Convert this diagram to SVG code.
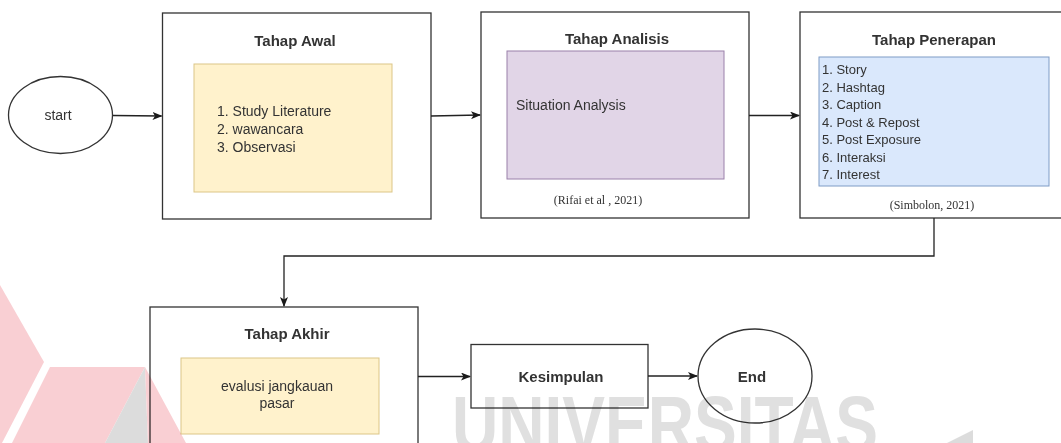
<svg xmlns="http://www.w3.org/2000/svg" width="1061" height="443" viewBox="0 0 1061 443">
<defs>
<marker id="arr" markerWidth="10" markerHeight="8" refX="9" refY="4" orient="auto" markerUnits="userSpaceOnUse">
<path d="M0,0 L10,4 L0,8 L2.5,4 Z" fill="#1a1a1a"/>
</marker>
<style>
.frame{fill:#ffffff;stroke:#333333;stroke-width:1.3}
.yel{fill:#fff2cc;stroke:#dcc687;stroke-width:1}
.pur{fill:#e1d5e7;stroke:#9a80aa;stroke-width:1}
.blu{fill:#dae8fc;stroke:#7f9cc6;stroke-width:1}
.title{font-family:"Liberation Sans",Arial,sans-serif;font-size:15px;font-weight:bold;fill:#333333;text-anchor:middle}
.txt{font-family:"Liberation Sans",Arial,sans-serif;font-size:14px;fill:#333333}
.lst{font-family:"Liberation Sans",Arial,sans-serif;font-size:13px;fill:#333333}
.ref{font-family:"Liberation Serif","Times New Roman",serif;font-size:12px;fill:#333333;text-anchor:middle}
.conn{fill:none;stroke:#222222;stroke-width:1.3}
</style>
</defs>
<rect x="0" y="0" width="1061" height="443" fill="#ffffff"/>

<g id="start">
<ellipse cx="60.5" cy="115" rx="52" ry="38.5" fill="#ffffff" stroke="#333333" stroke-width="1.3"/>
<text class="txt" x="58" y="120" text-anchor="middle" font-size="15">start</text>
</g>

<g id="tahap-awal">
<rect class="frame" x="162.5" y="13" width="268.5" height="206"/>
<text class="title" x="295" y="46">Tahap Awal</text>
<rect class="yel" x="194" y="64" width="198" height="128"/>
<text class="txt" x="217" y="116">1. Study Literature</text>
<text class="txt" x="217" y="134">2. wawancara</text>
<text class="txt" x="217" y="152">3. Observasi</text>
</g>

<g id="tahap-analisis">
<rect class="frame" x="481" y="12" width="268" height="206"/>
<text class="title" x="617" y="44">Tahap Analisis</text>
<rect class="pur" x="507" y="51" width="217" height="128"/>
<text class="txt" x="516" y="110">Situation Analysis</text>
<text class="ref" x="598" y="204">(Rifai et al , 2021)</text>
</g>

<g id="tahap-penerapan">
<rect class="frame" x="800" y="12" width="280" height="206"/>
<text class="title" x="934" y="45">Tahap Penerapan</text>
<rect class="blu" x="819" y="57" width="230" height="129"/>
<text class="lst" x="822" y="74">1. Story</text>
<text class="lst" x="822" y="91.5">2. Hashtag</text>
<text class="lst" x="822" y="109">3. Caption</text>
<text class="lst" x="822" y="126.5">4. Post &amp; Repost</text>
<text class="lst" x="822" y="144">5. Post Exposure</text>
<text class="lst" x="822" y="161.5">6. Interaksi</text>
<text class="lst" x="822" y="179">7. Interest</text>
<text class="ref" x="932" y="209">(Simbolon, 2021)</text>
</g>

<g id="tahap-akhir">
<rect class="frame" x="150" y="307" width="268" height="150"/>
<text class="title" x="287" y="338.5">Tahap Akhir</text>
<rect class="yel" x="181" y="358" width="198" height="76"/>
<text class="txt" x="277" y="391" text-anchor="middle" font-size="15">evalusi jangkauan</text>
<text class="txt" x="277" y="408" text-anchor="middle" font-size="15">pasar</text>
</g>

<g id="kesimpulan">
<rect class="frame" x="471" y="344.5" width="177" height="63.5"/>
<text class="title" x="561" y="382">Kesimpulan</text>
</g>

<g id="end">
<ellipse cx="755" cy="376" rx="57" ry="47" fill="#ffffff" stroke="#333333" stroke-width="1.3"/>
<text class="title" x="752" y="382">End</text>
</g>

<g id="connectors">
<path class="conn" d="M113,115.5 L161.5,116" marker-end="url(#arr)"/>
<path class="conn" d="M431,116 L480,115" marker-end="url(#arr)"/>
<path class="conn" d="M749,115.5 L799,115.5" marker-end="url(#arr)"/>
<path class="conn" d="M934,218 L934,256 L284,256 L284,306" marker-end="url(#arr)"/>
<path class="conn" d="M418,376.5 L470,376.5" marker-end="url(#arr)"/>
<path class="conn" d="M648,376 L697,376" marker-end="url(#arr)"/>
</g>

<g id="watermark" style="mix-blend-mode:multiply">
<polygon points="0,285 44,362 2,443 0,443" fill="#f9cfd3"/>
<polygon points="50,367 145,367 105,443 12,443" fill="#f9cfd3"/>
<polygon points="145,367 105,443 148,443" fill="#dcdcdc"/>
<polygon points="145,367 148,443 186,443" fill="#f9cfd3"/>
<polygon points="947,443 973,430 973,443" fill="#dcdcdc"/>
<text x="452" y="452" font-family="'Liberation Sans',Arial,sans-serif" font-size="80" font-weight="bold" fill="#e0e0e0" textLength="426" lengthAdjust="spacingAndGlyphs">UNIVERSITAS</text>
</g>
</svg>
